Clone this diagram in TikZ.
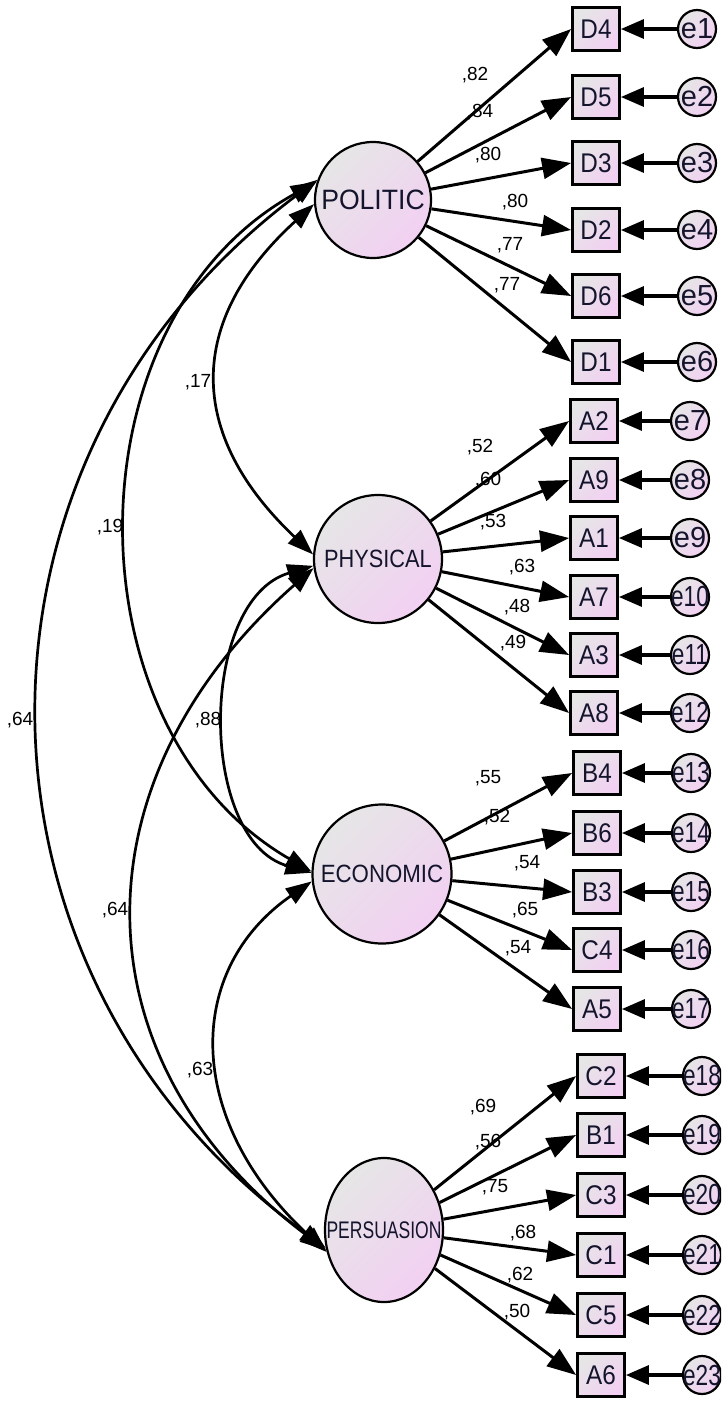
\documentclass[tikz,border=0pt]{standalone}
\usepackage{graphicx}
\usepackage{fontspec}
\setmainfont{Liberation Sans}
\usetikzlibrary{arrows.meta,shapes.geometric}
\definecolor{pk}{RGB}{242,208,242}
\definecolor{gy}{RGB}{230,230,230}
\definecolor{txt}{RGB}{20,20,45}
\newcommand{\nx}[2]{\makebox[0pt]{\scalebox{#1}[1]{#2}}}
\begin{document}
\begin{tikzpicture}[x=1pt,y=-1pt,
  shade/.style={top color=gy, bottom color=pk, shading angle=45},
  lat/.style={circle, draw=black, line width=2.2pt, shade, inner sep=0pt, text=txt},
  obs/.style={rectangle, draw=black, line width=2.8pt, shade, minimum width=47pt, minimum height=43pt, inner sep=0pt, text=txt, font=\fontsize{27}{27}\selectfont},
  errc/.style={circle, draw=black, line width=2.2pt, shade, minimum size=38pt, inner sep=0pt, text=txt, font=\fontsize{29}{29}\selectfont},
  load/.style={line width=3pt, -{Triangle[length=29pt,width=21pt]}},
  erra/.style={line width=3.2pt, -{Triangle[length=23pt,width=19pt]}},
  cov/.style={line width=2.7pt, {Triangle[length=26pt,width=18pt]}-{Triangle[length=26pt,width=18pt]}},
  num/.style={font=\fontsize{19}{19}\selectfont, inner sep=0pt}
]
\path[use as bounding box] (0,0) rectangle (721,1401);
\clip (0,0) rectangle (721,1401);

% latent variables
\node[lat, minimum size=116pt] (politic) at (373,200) {\fontsize{28}{28}\selectfont\nx{0.95}{POLITIC}};
\node[lat, minimum size=128pt] (physical) at (378,559) {\fontsize{25}{25}\selectfont\nx{0.87}{PHYSICAL}};
\node[lat, minimum size=139pt] (economic) at (382,874) {\fontsize{25}{25}\selectfont\nx{0.89}{ECONOMIC}};
\node[ellipse, draw=black, line width=2.2pt, shade, inner sep=0pt, text=txt, minimum width=118pt, minimum height=144pt] (persuasion) at (384,1230) {\fontsize{24}{24}\selectfont\nx{0.73}{PERSUASION}};

% observed variables and errors
\foreach \n/\y/\e in {D4/29/e1, D5/97/e2, D3/163/e3, D2/230/e4, D6/296/e5, D1/362/e6}{
  \node[obs] (\n) at (596,\y) {\nx{0.9}{\n}};
  \node[errc] (\e) at (697,\y) {\nx{1}{\e}};
  \draw[erra] (\e) -- (\n);
  \draw[load] (politic) -- (\n.west);
}
\foreach \n/\y/\e/\s in {A2/421/e7/1, A9/480/e8/1, A1/538/e9/1, A7/597/e10/0.78, A3/655/e11/0.78, A8/713/e12/0.78}{
  \node[obs] (\n) at (594,\y) {\nx{0.9}{\n}};
  \node[errc] (\e) at (690,\y) {\nx{\s}{\e}};
  \draw[erra] (\e) -- (\n);
  \draw[load] (physical) -- (\n.west);
}
\foreach \n/\y/\e in {B4/773/e13, B6/833/e14, B3/892/e15, C4/950/e16, A5/1009/e17}{
  \node[obs] (\n) at (597,\y) {\nx{0.9}{\n}};
  \node[errc] (\e) at (691,\y) {\nx{0.78}{\e}};
  \draw[erra] (\e) -- (\n);
  \draw[load] (economic) -- (\n.west);
}
\foreach \n/\y/\e in {C2/1076/e18, B1/1135/e19, C3/1195/e20, C1/1255/e21, C5/1315/e22, A6/1375/e23}{
  \node[obs] (\n) at (601,\y) {\nx{0.9}{\n}};
  \node[errc] (\e) at (702,\y) {\nx{0.78}{\e}};
  \draw[erra] (\e) -- (\n);
  \draw[load] (persuasion) -- (\n.west);
}

% loading labels
\foreach \t/\x/\y [count=\i] in {{,82}/475/75, {,84}/480/112, {,80}/488/155, {,80}/515/202, {,77}/510/245, {,77}/507/285,
  {,52}/480/447, {,60}/488/480, {,53}/493/522, {,63}/522/567, {,48}/517/607, {,49}/513/643,
  {,55}/488/778, {,52}/497/817, {,54}/527/863, {,65}/525/910, {,54}/518/948,
  {,69}/483/1107, {,56}/488/1142, {,75}/495/1187, {,68}/523/1233, {,62}/520/1275, {,50}/517/1312}{
  \node[num] (l\i) at (\x,\y) {\t};
}

% covariances
\draw[cov] (politic.184) .. controls (186,321) and (186,434) .. (physical.176);
\draw[cov] (politic.162) .. controls (66,320) and (66,730) .. (economic.178);
\draw[cov] (politic.160) .. controls (-54,457) and (-54,973) .. (persuasion.197);
\draw[cov] (physical.186) .. controls (198,600) and (198,840) .. (economic.179);
\draw[cov] (physical.188) .. controls (73,780) and (73,1060) .. (persuasion.199);
\draw[cov] (economic.186) .. controls (184,970) and (184,1120) .. (persuasion.201);

\node[num] (c1) at (198,382) {,17};
\node[num] (c2) at (110,527) {,19};
\node[num] (c3) at (20,720) {,64};
\node[num] (c4) at (208,720) {,88};
\node[num] (c5) at (115,910) {,64};
\node[num] (c6) at (200,1070) {,63};
\end{tikzpicture}
\end{document}
